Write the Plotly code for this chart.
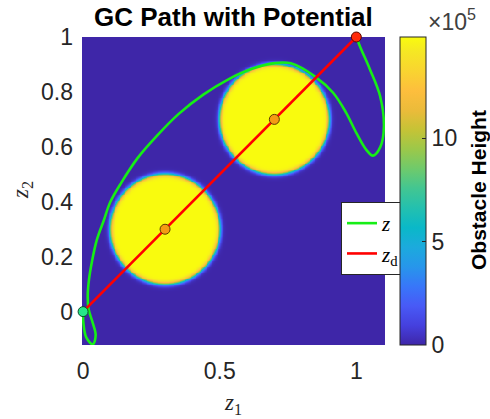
import numpy as np
import plotly.graph_objects as go

# ---- data -------------------------------------------------------------
# obstacle centres, radii and peak height of the potential field
obs_cx = [0.3, 0.7]
obs_cy = [0.3, 0.7]
obs_r = [0.2, 0.2]
obs_height = 1.49e6
edge_sharpness = 240.0

# grid extent of the potential map
grid_x_lim = [-0.004, 1.105]
grid_y_lim = [-0.1215, 1.0]
grid_n = 360

# closed-loop GC path z
path_x = [0.000, 0.001, 0.012, 0.036, 0.046, 0.035, 0.020, 0.017, 0.022, 0.032,
          0.050, 0.075, 0.100, 0.140, 0.200, 0.270, 0.350, 0.440, 0.530, 0.620,
          0.700, 0.760, 0.850, 0.915, 0.963, 1.000, 1.036, 1.061, 1.088, 1.101,
          1.087, 1.050, 1.015, 1.000]
path_y = [0.000, -0.040, -0.095, -0.119, -0.085, -0.040, 0.010, 0.060, 0.120, 0.180,
          0.260, 0.330, 0.400, 0.470, 0.560, 0.640, 0.720, 0.790, 0.845, 0.885,
          0.905, 0.904, 0.855, 0.797, 0.724, 0.651, 0.590, 0.568, 0.600, 0.675,
          0.785, 0.882, 0.962, 1.000]

# desired straight path z_d
zd_x = [0.0, 1.0]
zd_y = [0.0, 1.0]

start_pt = (0.0, 0.0)
goal_pt = (1.0, 1.0)

# colorbar ticks
cb_tickvals = [0, 5e5, 1e6]
cb_ticktext = ["0", "5", "10"]
x_tickvals = [0, 0.5, 1]
x_ticktext = ["0", "0.5", "1"]
y_tickvals = [0, 0.2, 0.4, 0.6, 0.8, 1]
y_ticktext = ["0", "0.2", "0.4", "0.6", "0.8", "1"]

# parula-like colormap
parula = [
    [0.000, "rgb(62,38,168)"],
    [0.063, "rgb(69,64,222)"],
    [0.127, "rgb(72,90,246)"],
    [0.190, "rgb(56,118,249)"],
    [0.254, "rgb(39,150,235)"],
    [0.317, "rgb(28,170,221)"],
    [0.381, "rgb(10,184,200)"],
    [0.444, "rgb(35,192,175)"],
    [0.508, "rgb(66,198,146)"],
    [0.571, "rgb(110,202,108)"],
    [0.635, "rgb(155,200,74)"],
    [0.698, "rgb(197,195,54)"],
    [0.762, "rgb(235,187,58)"],
    [0.825, "rgb(253,190,61)"],
    [0.889, "rgb(249,212,48)"],
    [0.952, "rgb(245,231,36)"],
    [1.000, "rgb(249,251,14)"],
]

# ---- potential field --------------------------------------------------
gx = np.linspace(grid_x_lim[0], grid_x_lim[1], grid_n)
gy = np.linspace(grid_y_lim[0], grid_y_lim[1], grid_n)
XX, YY = np.meshgrid(gx, gy)
Z = np.zeros_like(XX)
for cx, cy, r in zip(obs_cx, obs_cy, obs_r):
    d = np.sqrt((XX - cx) ** 2 + (YY - cy) ** 2)
    Z += obs_height / (1.0 + np.exp(np.clip(edge_sharpness * (d - r), -50, 50)))

# ---- layout helpers (pixel -> paper) ----------------------------------
W, H = 490, 419
L, R, T, B = 82, 385, 37, 345
pw, ph = R - L, B - T


def px(x):
    return (x - L) / pw


def py(y):
    return (B - y) / ph


sans = "Liberation Sans, Arial, sans-serif"
serif = "Liberation Serif, Times New Roman, serif"
tick_font = dict(family=sans, size=23, color="#262626")

fig = go.Figure()

fig.add_trace(go.Heatmap(
    x=gx, y=gy, z=Z,
    colorscale=parula, zmin=0, zmax=obs_height,
    zsmooth=False, showscale=True, hoverinfo="skip",
    colorbar=dict(
        x=px(400), xanchor="left", xref="paper",
        y=0.5, yanchor="middle", len=1.0, lenmode="fraction",
        thickness=26, thicknessmode="pixels",
        outlinewidth=1, outlinecolor="#262626",
        tickvals=cb_tickvals, ticktext=cb_ticktext,
        ticks="inside", ticklen=4, tickcolor="#262626",
        tickfont=tick_font, ypad=0, xpad=0,
    ),
))

fig.add_trace(go.Scatter(
    x=path_x, y=path_y, mode="lines", name="<i>z</i>",
    line=dict(color="#16ee16", width=2.6, shape="spline", smoothing=1.0),
))
fig.add_trace(go.Scatter(
    x=zd_x, y=zd_y, mode="lines", name="<i>z</i><sub>d</sub>",
    line=dict(color="#ff0000", width=2.6),
))
fig.add_trace(go.Scatter(
    x=obs_cx, y=obs_cy, mode="markers", showlegend=False, cliponaxis=False,
    marker=dict(size=10, color="#f59a14", line=dict(color="#5a3a00", width=1)),
))
fig.add_trace(go.Scatter(
    x=[start_pt[0]], y=[start_pt[1]], mode="markers", showlegend=False,
    cliponaxis=False,
    marker=dict(size=10, color="#26e889", line=dict(color="#0b4a2a", width=1)),
))
fig.add_trace(go.Scatter(
    x=[goal_pt[0]], y=[goal_pt[1]], mode="markers", showlegend=False,
    cliponaxis=False,
    marker=dict(size=10, color="#ff2a0a", line=dict(color="#5a0a00", width=1)),
))

fig.update_xaxes(
    range=grid_x_lim, tickvals=x_tickvals, ticktext=x_ticktext,
    tickfont=tick_font, ticks="", showgrid=False, zeroline=False,
    showline=False, ticklabelstandoff=10,
)
fig.update_yaxes(
    range=grid_y_lim, tickvals=y_tickvals, ticktext=y_ticktext,
    tickfont=tick_font, ticks="", showgrid=False, zeroline=False,
    showline=False, ticklabelstandoff=8,
)

annotations = [
    dict(text="<b>GC Path with Potential</b>", x=px(233), y=py(17),
         font=dict(family=sans, size=26, color="#000000")),
    dict(text="<i>z</i><sub>1</sub>", x=px(233), y=py(404),
         font=dict(family=serif, size=23, color="#262626")),
    dict(text="<i>z</i><sub>2</sub>", x=px(22), y=py(190), textangle=-90,
         font=dict(family=serif, size=23, color="#262626")),
    dict(text="×10<sup>5</sup>", x=px(452), y=py(20),
         font=dict(family=sans, size=23, color="#404040")),
    dict(text="<b>Obstacle Height</b>", x=px(478), y=py(190), textangle=-90,
         font=dict(family=sans, size=21, color="#000000")),
]
for a in annotations:
    a.update(xref="paper", yref="paper", showarrow=False,
             xanchor="center", yanchor="middle")

fig.update_layout(
    width=W, height=H,
    margin=dict(l=L, r=W - R, t=T, b=H - B, pad=0),
    paper_bgcolor="white", plot_bgcolor="white",
    annotations=annotations,
    showlegend=True,
    legend=dict(
        x=px(341), y=py(202), xanchor="left", yanchor="top",
        bgcolor="white", bordercolor="#262626", borderwidth=1,
        font=dict(family=serif, size=21, color="#000000"),
        tracegroupgap=0, itemwidth=30,
    ),
)

fig.write_html("out.html")
